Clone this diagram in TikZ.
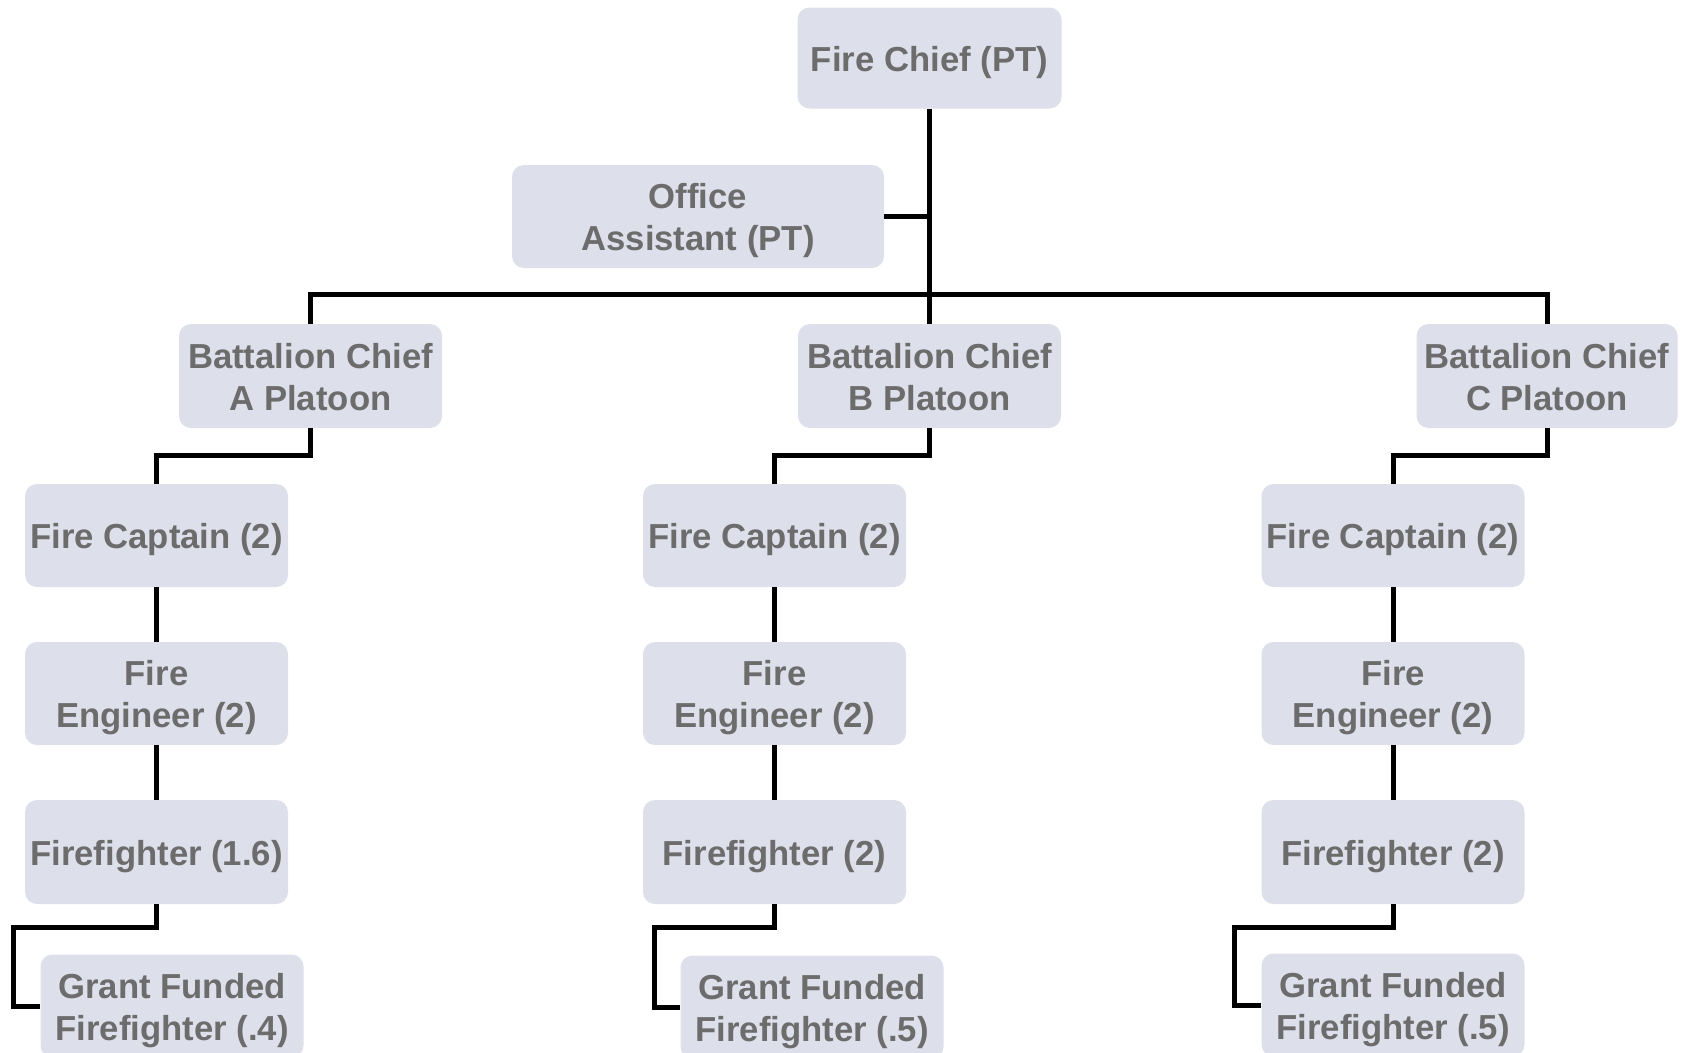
\documentclass[tikz,border=0pt]{standalone}
\usepackage{fontspec}
\setmainfont{Liberation Sans}
\definecolor{boxfill}{RGB}{221,224,234}
\definecolor{boxtext}{RGB}{108,108,108}
% centred label, drawn a little below the node's centre line
\newcommand{\lbl}[2][-5pt]{\raisebox{#1}[\height][\depth]{\begin{tabular}{@{}c@{}}#2\end{tabular}}}
\begin{document}
\begin{tikzpicture}[x=1pt,y=-1pt,
  orgbox/.style={draw=none, fill=boxfill, rounded corners=12pt, inner sep=0pt,
    minimum width=263pt, minimum height=103pt,
    text=boxtext, font=\bfseries\fontsize{34.7}{42}\selectfont},
  link/.style={draw=black, line width=5pt}]
\useasboundingbox (0,0) rectangle (1689,1052);
\clip (0,0) rectangle (1689,1052);
\fill[white] (0,0) rectangle (1689,1052);

% top level
\node[orgbox, minimum width=264pt, minimum height=101pt] (chief) at (929.5,58) {\lbl{Fire Chief (PT)}};
\node[orgbox, minimum width=372pt] (office) at (698,216.5) {\lbl{Office\\Assistant (PT)}};

% battalion chiefs
\node[orgbox, minimum height=104pt] (bcA) at (310.5,376) {\lbl[-5.5pt]{Battalion Chief\\A Platoon}};
\node[orgbox, minimum height=104pt] (bcB) at (929.5,376) {\lbl[-5.5pt]{Battalion Chief\\B Platoon}};
\node[orgbox, minimum height=104pt, minimum width=261pt] (bcC) at (1547,376) {\lbl[-5.5pt]{Battalion Chief\\C Platoon}};

% captains
\node[orgbox] (capA) at (156.5,535.5) {\lbl{Fire Captain (2)}};
\node[orgbox] (capB) at (774.5,535.5) {\lbl{Fire Captain (2)}};
\node[orgbox] (capC) at (1393,535.5) {\lbl{Fire Captain (2)}};

% engineers
\node[orgbox] (engA) at (156.5,693.5) {\lbl{Fire\\Engineer (2)}};
\node[orgbox] (engB) at (774.5,693.5) {\lbl{Fire\\Engineer (2)}};
\node[orgbox] (engC) at (1393,693.5) {\lbl{Fire\\Engineer (2)}};

% firefighters
\node[orgbox, minimum height=104pt] (ffA) at (156.5,852) {\lbl{Firefighter (1.6)}};
\node[orgbox, minimum height=104pt] (ffB) at (774.5,852) {\lbl{Firefighter (2)}};
\node[orgbox, minimum height=104pt] (ffC) at (1393,852) {\lbl{Firefighter (2)}};

% grant funded firefighters
\node[orgbox] (gfA) at (172,1006) {\lbl{Grant Funded\\Firefighter (.4)}};
\node[orgbox] (gfB) at (812,1007) {\lbl{Grant Funded\\Firefighter (.5)}};
\node[orgbox] (gfC) at (1393,1005) {\lbl{Grant Funded\\Firefighter (.5)}};

% connectors
\coordinate (bus) at (929.5,294);
\draw[link] (chief.south) -- (bcB.north);
\draw[link] (office.east) -- (office.east -| chief.south);
\draw[link] (bcA.north) |- (bus) -| (bcC.north);

\draw[link] (bcA.south) -- ++(0,27) -| (capA.north);
\draw[link] (bcB.south) -- ++(0,27) -| (capB.north);
\draw[link] (bcC.south) -- ++(0,27) -| (capC.north);

\draw[link] (capA.south) -- (engA.north);
\draw[link] (capB.south) -- (engB.north);
\draw[link] (capC.south) -- (engC.north);

\draw[link] (engA.south) -- (ffA.north);
\draw[link] (engB.south) -- (ffB.north);
\draw[link] (engC.south) -- (ffC.north);

\draw[link] (ffA.south) -- ++(0,23) -| ([xshift=-27pt]gfA.west) -- (gfA.west);
\draw[link] (ffB.south) -- ++(0,23) -| ([xshift=-26pt]gfB.west) -- (gfB.west);
\draw[link] (ffC.south) -- ++(0,23) -| ([xshift=-27pt]gfC.west) -- (gfC.west);
\end{tikzpicture}
\end{document}
